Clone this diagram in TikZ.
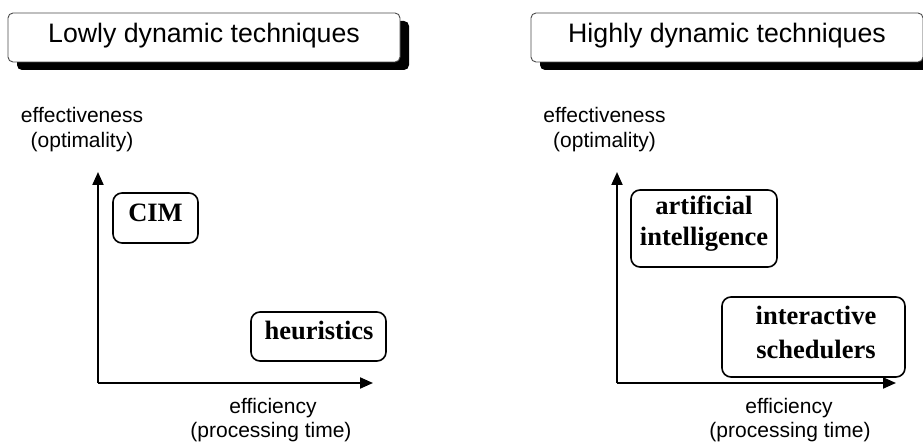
\documentclass[tikz,border=0pt]{standalone}
\usepackage{fontspec}
\setmainfont{Liberation Serif}
\setsansfont{Liberation Sans}
\usetikzlibrary{arrows.meta}
\begin{document}
\begin{tikzpicture}[x=1pt,y=-1pt,
  header/.style={draw=black!70, line width=0.9pt, fill=white, rounded corners=5pt,
    minimum width=392pt, minimum height=49pt, inner sep=0pt},
  headshadow/.style={fill=black, rounded corners=5pt,
    minimum width=392pt, minimum height=49pt, inner sep=0pt},
  headtext/.style={font=\sffamily\fontsize{26.7}{32}\selectfont, inner sep=0pt, anchor=base},
  axislabel/.style={font=\sffamily\fontsize{21}{25}\selectfont, inner sep=0pt, anchor=base},
  tag/.style={draw=black, line width=1.6pt, rounded corners=9pt, inner sep=0pt},
  tagtext/.style={font=\bfseries\fontsize{26.5}{31}\selectfont, inner sep=0pt, anchor=base},
  axis/.style={line width=2pt, -{Triangle[length=13pt,width=11pt]}}
]
\useasboundingbox (0,0) rectangle (923,443);

% ---- titles with drop shadows ----
\node[headshadow] (lshadow) at (213,45.5) {};
\node[header] (lhead) at (204,37.5) {};
\node[headtext] (ltitle) at (204,43) {Lowly dynamic techniques};

\node[headshadow] (rshadow) at (736,45.5) {};
\node[header] (rhead) at (727,37.5) {};
\node[headtext] (rtitle) at (727,43) {Highly dynamic techniques};

% ---- left chart ----
\coordinate (lo) at (98,383);
\coordinate (ly) at (98,172);
\coordinate (lx) at (373,383);
\draw[axis] (lo) -- (ly);
\draw[axis] (lo) -- (lx);

\node[axislabel] (leff) at (82,123) {effectiveness};
\node[axislabel] (lopt) at (82,148) {(optimality)};
\node[axislabel] (lfic) at (273,413) {efficiency};
\node[axislabel] (lproc) at (271,437) {(processing time)};

\node[tag, minimum width=85pt, minimum height=50pt] (cim) at (155.5,218) {};
\node[tagtext] (cimtxt) at (155.5,222) {CIM};

\node[tag, minimum width=135pt, minimum height=49pt] (heur) at (318.5,336.5) {};
\node[tagtext] (heurtxt) at (319,339) {heuristics};

% ---- right chart ----
\coordinate (ro) at (617,383);
\coordinate (ry) at (617,172);
\coordinate (rx) at (896,383);
\draw[axis] (ro) -- (ry);
\draw[axis] (ro) -- (rx);

\node[axislabel] (reff) at (604.5,123) {effectiveness};
\node[axislabel] (ropt) at (604.5,148) {(optimality)};
\node[axislabel] (rfic) at (789,413) {efficiency};
\node[axislabel] (rproc) at (790,437) {(processing time)};

\node[tag, minimum width=146pt, minimum height=77pt] (ai) at (704,228.5) {};
\node[tagtext] (aitxt1) at (704,215) {artificial};
\node[tagtext] (aitxt2) at (704,246) {intelligence};

\node[tag, minimum width=183pt, minimum height=80pt] (inter) at (813.5,337) {};
\node[tagtext] (intertxt1) at (816,325) {interactive};
\node[tagtext] (intertxt2) at (816,358) {schedulers};
\end{tikzpicture}
\end{document}
